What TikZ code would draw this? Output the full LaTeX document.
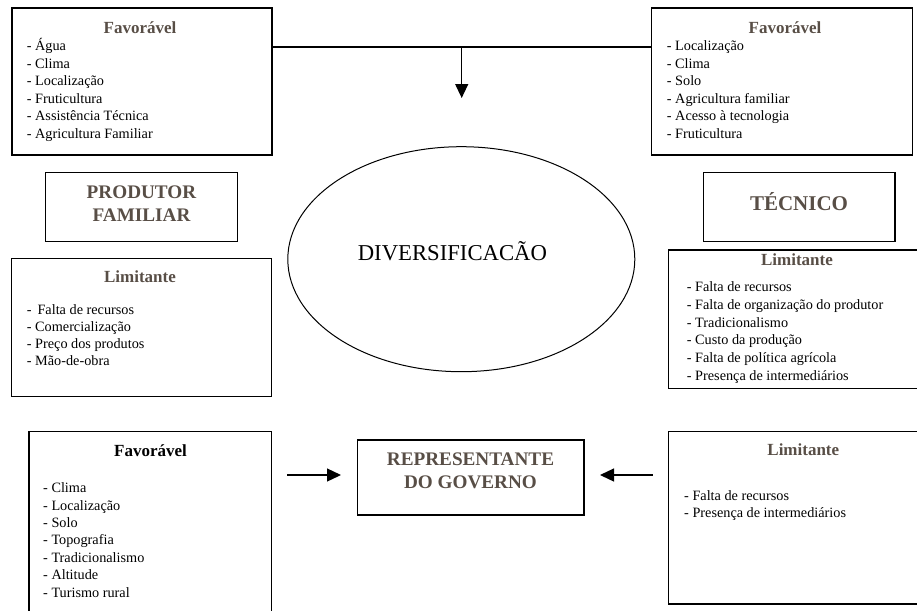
\documentclass[tikz,border=0pt]{standalone}
\usepackage{fontspec}
\setmainfont{Liberation Serif}
\usetikzlibrary{arrows.meta,shapes.geometric}
\definecolor{ttl}{RGB}{88,78,70}
\begin{document}
\begin{tikzpicture}[x=1pt,y=-1pt,
  box/.style={draw, line width=1.3pt, inner sep=0pt, outer sep=0pt, anchor=north west},
  item/.style={anchor=base west, inner sep=0pt, font=\fontsize{14.25}{17}\selectfont},
  ttlnode/.style={anchor=base, inner sep=0pt, text=ttl, font=\fontsize{17}{20}\selectfont\bfseries},
  bigttl/.style={anchor=base, inner sep=0pt, text=ttl, font=\fontsize{19.2}{23}\selectfont\bfseries},
  conn/.style={line width=1.3pt},
  arr/.style={line width=1.3pt, -{Triangle[length=14pt,width=13pt]}}]
\useasboundingbox (0,0) rectangle (917,610);

% boxes
\node[box, minimum width=260pt, minimum height=147pt] (fav1) at (12,8) {};
\node[box, minimum width=261pt, minimum height=147pt] (fav2) at (651.7,8) {};
\node[box, minimum width=191.6pt, minimum height=69.4pt] (prod) at (45.7,172.3) {};
\node[box, minimum width=260pt, minimum height=138.4pt] (lim1) at (11.7,258.3) {};
\node[box, minimum width=191.7pt, minimum height=69.4pt] (tec) at (703.3,172.3) {};
\node[box, minimum width=260pt, minimum height=138.3pt] (lim2) at (668.3,250) {};
\node[box, minimum width=242.7pt, minimum height=182pt] (fav3) at (29,431.7) {};
\node[box, minimum width=226.7pt, minimum height=75pt] (rep) at (357.3,440) {};
\node[box, minimum width=260pt, minimum height=172.3pt] (lim3) at (668.3,431.7) {};
\node[draw, ellipse, line width=1pt, minimum width=347pt, minimum height=225pt, inner sep=0pt] (div) at (461.3,259.2) {};

% ellipse text
\node[anchor=base, inner sep=0pt, font=\fontsize{22.7}{27}\selectfont] (divt) at (452.4,260) {DIVERSIFICACÃO};

% top connector
\coordinate (mid) at (0,47);
\coordinate (jn) at (461.7,47);
\coordinate (tip) at (461.7,98);
\draw[conn] (fav1.east |- mid) -- (fav2.west |- mid);
\draw[arr] (jn) -- (tip);

% bottom arrows
\coordinate (a1s) at (287,475);
\coordinate (a1e) at (341,475);
\coordinate (a2s) at (652.7,475);
\coordinate (a2e) at (600,475);
\draw[arr] (a1s) -- (a1e);
\draw[arr] (a2s) -- (a2e);

% titles
\node[ttlnode] (t1) at (140,33.3) {Favorável};
\node[ttlnode] (t2) at (785,33.3) {Favorável};
\node[ttlnode] (t3) at (140,282.7) {Limitante};
\node[ttlnode] (t4) at (797,265) {Limitante};
\node[ttlnode, text=black] (t5) at (150.5,456.7) {Favorável};
\node[ttlnode] (t6) at (803.3,455) {Limitante};

\node[bigttl] (p1) at (141.5,198.3) {PRODUTOR};
\node[bigttl] (p2) at (141.5,221.7) {FAMILIAR};
\node[bigttl, font=\fontsize{21}{25}\selectfont\bfseries] (tc) at (799,210) {TÉCNICO};
\node[bigttl] (r1) at (470.5,465) {REPRESENTANTE};
\node[bigttl] (r2) at (470.5,488.3) {DO GOVERNO};

% lists
\foreach \t [count=\i] in {- Água,- Clima,- Localização,- Fruticultura,- Assistência Técnica,- Agricultura Familiar}
  \node[item] (a\i) at (26.7,50.5+17.5*\i-17.5) {\t};
\foreach \t [count=\i] in {- Localização,- Clima,- Solo,- Agricultura familiar,- Acesso à tecnologia,- Fruticultura}
  \node[item] (b\i) at (666.7,50.5+17.5*\i-17.5) {\t};
\foreach \t [count=\i] in {-\ \,Falta de recursos,- Comercialização,- Preço dos produtos,- Mão-de-obra}
  \node[item] (c\i) at (26.7,314+17.2*\i-17.2) {\t};
\foreach \t [count=\i] in {- Falta de recursos,- Falta de organização do produtor,- Tradicionalismo,- Custo da produção,- Falta de política agrícola,- Presença de intermediários}
  \node[item] (d\i) at (686.7,291.7+17.66*\i-17.66) {\t};
\foreach \t [count=\i] in {- Clima,- Localização,- Solo,- Topografia,- Tradicionalismo,- Altitude,- Turismo rural}
  \node[item] (e\i) at (43,492.7+17.43*\i-17.43) {\t};
\foreach \t [count=\i] in {- Falta de recursos,- Presença de intermediários}
  \node[item] (f\i) at (684,500.7+16.6*\i-16.6) {\t};
\end{tikzpicture}
\end{document}
